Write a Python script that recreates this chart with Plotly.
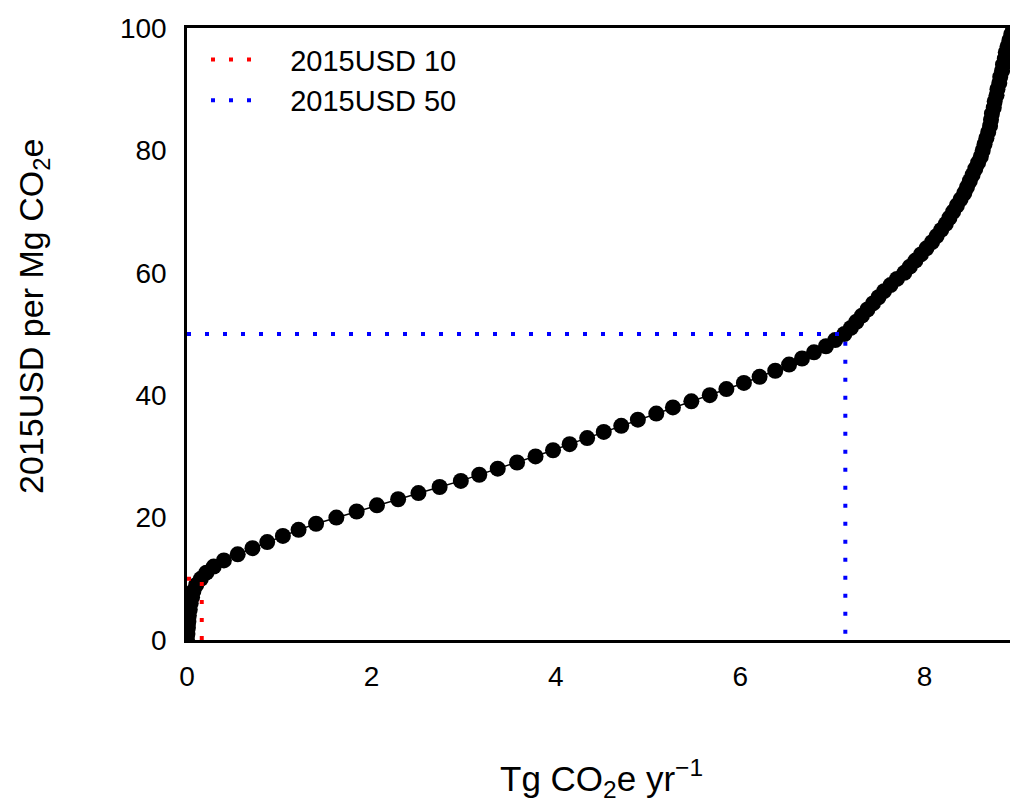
import plotly.graph_objects as go

# Marginal abatement cost curve: price (2015USD per Mg CO2e) vs abatement (Tg CO2e / yr)
price = list(range(0, 101))
abatement = [
    0.00, 0.005, 0.01, 0.015, 0.02, 0.03, 0.04, 0.055, 0.07, 0.10,   # 0-9
    0.15, 0.21, 0.29, 0.40, 0.55, 0.71, 0.87, 1.04, 1.21, 1.40,      # 10-19
    1.62, 1.84, 2.06, 2.29, 2.51, 2.74, 2.97, 3.17, 3.37, 3.58,      # 20-29
    3.78, 3.97, 4.15, 4.34, 4.52, 4.71, 4.89, 5.09, 5.27, 5.47,      # 30-39
    5.67, 5.85, 6.04, 6.21, 6.38, 6.53, 6.67, 6.80, 6.93, 7.03,      # 40-49
    7.13, 7.20, 7.26, 7.32, 7.38, 7.44, 7.50, 7.56, 7.63, 7.70,      # 50-59
    7.78, 7.84, 7.90, 7.96, 8.02, 8.08, 8.13, 8.18, 8.23, 8.27,      # 60-69
    8.31, 8.35, 8.39, 8.43, 8.46, 8.49, 8.52, 8.55, 8.58, 8.61,      # 70-79
    8.63, 8.65, 8.67, 8.69, 8.71, 8.72, 8.73, 8.75, 8.76, 8.78,      # 80-89
    8.79, 8.81, 8.82, 8.84, 8.85, 8.87, 8.88, 8.90, 8.92, 8.94,      # 90-99
    8.96,                                                            # 100
]

# Reference price levels and the abatement achieved at each
ref_names = ["2015USD 10", "2015USD 50"]
ref_prices = [10, 50]
ref_abatement = [0.16, 7.14]
ref_colors = ["#ff0000", "#0000ff"]

x_ticks = [0, 2, 4, 6, 8]
y_ticks = [0, 20, 40, 60, 80, 100]

FONT = "Liberation Sans, Arial, Helvetica, sans-serif"
PAD = "\u00a0\u00a0\u00a0"

fig = go.Figure()

fig.add_trace(go.Scatter(
    x=abatement, y=price, mode="lines+markers",
    line=dict(color="black", width=1.5),
    marker=dict(color="black", size=16, line=dict(width=0)),
    showlegend=False, hoverinfo="x+y",
))

for name, p, a, c in zip(ref_names, ref_prices, ref_abatement, ref_colors):
    fig.add_trace(go.Scatter(
        x=[0, a, a], y=[p, p, 0], mode="lines", name=PAD + name,
        line=dict(color=c, width=4, dash="4px,14px"),
    ))

W, H = 1010, 805
L, R, T, B = 187, 0, 28, 165
pw, ph = W - L - R, H - T - B

fig.update_layout(
    width=W, height=H,
    margin=dict(l=L, r=R, t=T, b=B),
    plot_bgcolor="white", paper_bgcolor="white",
    font=dict(family=FONT, size=28, color="black"),
    showlegend=True,
    legend=dict(
        x=(206 - L) / pw, y=0.99, xanchor="left", yanchor="top",
        bgcolor="rgba(0,0,0,0)", borderwidth=0,
        font=dict(family=FONT, size=29, color="black"),
        itemwidth=50, tracegroupgap=0,
    ),
    xaxis=dict(
        range=[0, 8.926], tickvals=x_ticks, ticktext=[str(v) for v in x_ticks],
        showgrid=False, zeroline=False, showline=True, linecolor="black",
        linewidth=2.5, mirror=True, ticks="", ticklabelstandoff=10,
        tickfont=dict(family=FONT, size=28),
    ),
    yaxis=dict(
        range=[0, 100], tickvals=y_ticks, ticktext=[str(v) for v in y_ticks],
        showgrid=False, zeroline=False, showline=True, linecolor="black",
        linewidth=2.5, mirror=False, ticks="", ticklabelstandoff=12,
        tickfont=dict(family=FONT, size=28),
    ),
    annotations=[
        dict(text="Tg CO<sub>2</sub>e yr<sup>\u22121</sup>", xref="paper", yref="paper",
             x=(601 - L) / pw, y=(H - B - 778) / ph, xanchor="center", yanchor="middle",
             showarrow=False, font=dict(family=FONT, size=35)),
        dict(text="2015USD per Mg CO<sub>2</sub>e", xref="paper", yref="paper",
             x=(33 - L) / pw, y=(H - B - 317) / ph, xanchor="center", yanchor="middle",
             textangle=-90, showarrow=False, font=dict(family=FONT, size=34)),
    ],
)

fig.write_html("out.html")
